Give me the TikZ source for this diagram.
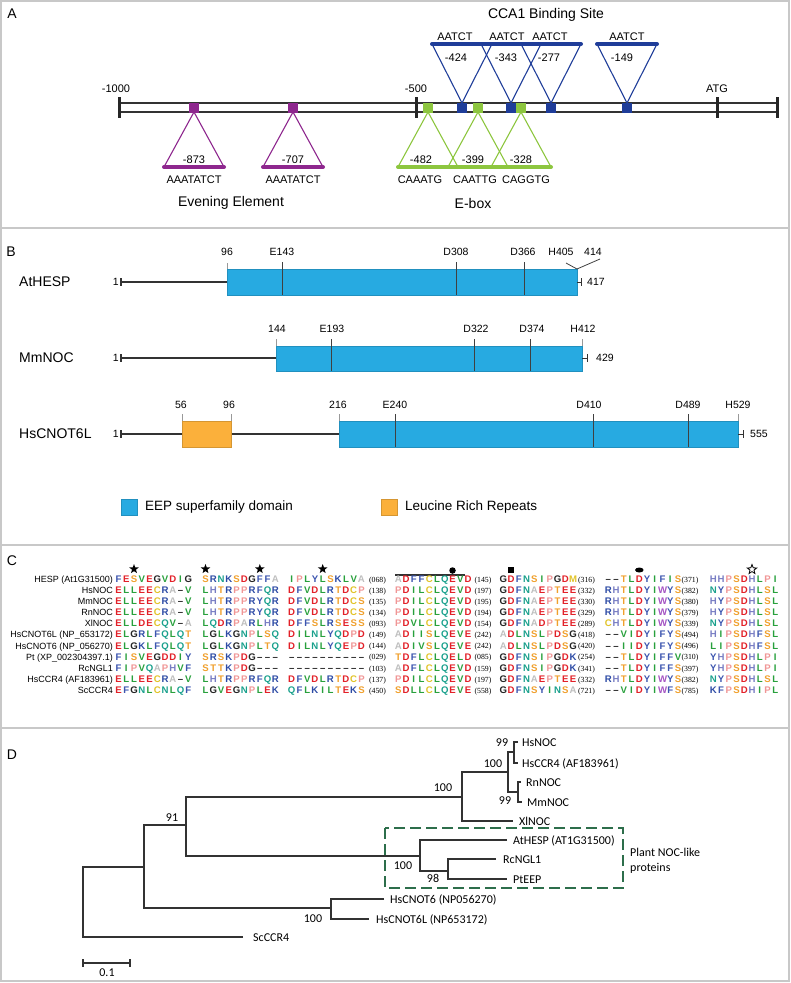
\documentclass[tikz,border=0pt]{standalone}
\usepackage{fontspec}
\setmainfont{Liberation Sans}
\newfontfamily\calib{Carlito}
\newfontfamily\serifnum{Liberation Serif}
\usetikzlibrary{shapes.geometric}

\definecolor{evpurple}{RGB}{142,39,142}
\definecolor{ebgreen}{RGB}{141,198,63}
\definecolor{ccablue}{RGB}{31,61,153}
\definecolor{eepblue}{RGB}{39,170,225}
\definecolor{lrrorange}{RGB}{251,176,59}
\definecolor{framegray}{RGB}{200,200,200}
\definecolor{boxgreen}{RGB}{45,110,75}
\definecolor{treegray}{RGB}{50,50,50}
\definecolor{aaRed}{RGB}{226,32,40}
\definecolor{aaGreen}{RGB}{40,160,60}
\definecolor{aaBlue}{RGB}{45,75,165}
\definecolor{aaBlueB}{RGB}{60,85,175}
\definecolor{aaSlate}{RGB}{120,125,195}
\definecolor{aaTeal}{RGB}{25,160,140}
\definecolor{aaOrange}{RGB}{240,160,45}
\definecolor{aaYellow}{RGB}{225,195,40}
\definecolor{aaPink}{RGB}{240,150,150}
\definecolor{aaGray}{RGB}{190,190,190}
\definecolor{aaPurple}{RGB}{165,85,195}
\definecolor{aaBlack}{RGB}{35,35,35}

\makeatletter
\def\aamap#1#2{\expandafter\def\csname aacol#1\endcsname{#2}}
\aamap D{aaRed}\aamap E{aaRed}
\aamap L{aaGreen}\aamap I{aaGreen}\aamap V{aaGreen}
\aamap R{aaBlue}\aamap K{aaBlue}
\aamap F{aaBlueB}\aamap Y{aaBlueB}
\aamap H{aaSlate}
\aamap N{aaTeal}\aamap Q{aaTeal}
\aamap S{aaOrange}\aamap T{aaOrange}
\aamap C{aaYellow}\aamap M{aaYellow}
\aamap P{aaPink}\aamap A{aaGray}\aamap W{aaPurple}
\aamap G{aaBlack}\aamap -{aaBlack}
\def\sq@dash{-}
\newcount\aacnt
\newcommand\seqrow[3]{%
  \def\sq@x{#1}%
  \@tfor\sq@c:=#3\do{%
    \global\advance\aacnt by 1
    \edef\sq@col{\csname aacol\sq@c\endcsname}%
    \ifx\sq@c\sq@dash\def\sq@t{\textendash}\else\let\sq@t\sq@c\fi
    \node[aa,text=\sq@col] (aa\the\aacnt) at (\sq@x,#2) {\sq@t};
    \pgfmathsetmacro\sq@x{\sq@x+7.75}%
  }%
}
\newcommand\alrow[9]{%
  \pgfmathsetmacro\al@b{#1+3.4}%
  \global\advance\aacnt by 1
  \node[alname] (nm\the\aacnt) at (113,\al@b) {#2};
  \seqrow{118.5}{\al@b}{#3}%
  \seqrow{205.5}{\al@b}{#4}%
  \seqrow{291.7}{\al@b}{#5}%
  \seqrow{398.3}{\al@b}{#6}%
  \seqrow{503.3}{\al@b}{#7}%
  \seqrow{608.3}{\al@b}{#8}%
  \seqrow{713.3}{\al@b}{#9}%
}
\newcommand\alnums[5]{%
  \pgfmathsetmacro\al@b{#1+3.2}%
  \global\advance\aacnt by 1
  \node[alnum] (na\the\aacnt) at (377.5,\al@b) {(#2)};
  \node[alnum] (nb\the\aacnt) at (483,\al@b) {(#3)};
  \node[alnum] (nc\the\aacnt) at (586.5,\al@b) {(#4)};
  \node[alnum] (nd\the\aacnt) at (690,\al@b) {(#5)};
}
\makeatother

\begin{document}
\begin{tikzpicture}[x=1pt,y=-1pt,
  frame/.style={draw=framegray,line width=1.5pt},
  plab/.style={font=\fontsize{14}{14}\selectfont,inner sep=0},
  ttl/.style={font=\fontsize{14}{14}\selectfont,inner sep=0},
  sml/.style={font=\fontsize{11}{11}\selectfont,inner sep=0},
  blab/.style={font=\fontsize{10.5}{10.5}\selectfont,inner sep=0},
  pname/.style={font=\fontsize{14}{14}\selectfont,inner sep=0,anchor=west},
  leg/.style={font=\fontsize{13.5}{13.5}\selectfont,inner sep=0,anchor=west},
  aa/.style={font=\fontsize{9.6}{9.6}\selectfont\bfseries,inner sep=0,anchor=base},
  alname/.style={font=\fontsize{9}{9}\selectfont,inner sep=0,anchor=base east},
  alnum/.style={font=\serifnum\fontsize{7.8}{7.8}\selectfont,inner sep=0,anchor=base},
  tree/.style={draw=treegray,line width=1.1pt},
  tlab/.style={font=\calib\fontsize{12}{12}\selectfont,inner sep=0,anchor=base west},
  boot/.style={font=\calib\fontsize{12}{12}\selectfont,inner sep=0},
  bar/.style={draw=black!80,line width=1.2pt},
  tickA/.style={draw=black!85,line width=3pt},
  prot/.style={draw=black!80,line width=1.3pt},
  dline/.style={draw=black!75,line width=0.8pt},
  eep/.style={fill=eepblue,draw=eepblue!85!black,line width=0.4pt},
  lrr/.style={fill=lrrorange,draw=lrrorange!85!black,line width=0.4pt},
  tri/.style={line width=1.1pt,line join=round},
  base/.style={line width=4pt,line cap=round},
]
\useasboundingbox (0,0) rectangle (791,983);

% ---------- frames ----------
\draw[frame] (1,1) rectangle (789,981);
\draw[frame] (1,228) -- (789,228);
\draw[frame] (1,545) -- (789,545);
\draw[frame] (1,728) -- (789,728);

% ================= Panel A =================
\node[plab] (labA) at (12,14) {A};
\draw[bar] (119,103) -- (777,103);
\draw[bar] (119,112) -- (777,112);
\draw[tickA] (119,97) -- (119,118);
\draw[tickA] (416,97) -- (416,118);
\draw[tickA] (717,97) -- (717,118);
\draw[tickA] (777,97) -- (777,118);
\node[sml] (pm1000) at (116,89) {-1000};
\node[sml] (pm500) at (416,89) {-500};
\node[sml] (patg) at (717,89) {ATG};

% CCA1 (blue)
\foreach \ax in {462,511,551,627}{
  \draw[ccablue,tri] (\ax,103) -- (\ax-30,44) -- (\ax+30,44) -- cycle;
}
\draw[ccablue,base] (432,44) -- (581,44);
\draw[ccablue,base] (597,44) -- (657,44);
\foreach \ax in {462,511,551,627}{
  \fill[ccablue] (\ax-5,102.5) rectangle (\ax+5,112.5);
}
\node[ttl] (ccat) at (546,15) {CCA1 Binding Site};
\node[sml] (c1) at (455,36.5) {AATCT};
\node[sml] (c2) at (507,36.5) {AATCT};
\node[sml] (c3) at (550,36.5) {AATCT};
\node[sml] (c4) at (627,36.5) {AATCT};
\node[sml] (c1n) at (456,57.5) {-424};
\node[sml] (c2n) at (506,57.5) {-343};
\node[sml] (c3n) at (549,57.5) {-277};
\node[sml] (c4n) at (622,57.5) {-149};

% Evening element (purple)
\foreach \ax in {194,293}{
  \draw[evpurple,tri] (\ax,112) -- (\ax-30,167) -- (\ax+30,167) -- cycle;
  \draw[evpurple,base] (\ax-30,167) -- (\ax+30,167);
  \fill[evpurple] (\ax-5,102.5) rectangle (\ax+5,112.5);
}
\node[sml] (e1n) at (194,160) {-873};
\node[sml] (e2n) at (293,160) {-707};
\node[sml] (e1s) at (194,180) {AAATATCT};
\node[sml] (e2s) at (293,180) {AAATATCT};
\node[ttl] (evt) at (231,203) {Evening Element};

% E-box (green)
\foreach \ax in {428,478,521}{
  \draw[ebgreen,tri] (\ax,112) -- (\ax-30,167) -- (\ax+30,167) -- cycle;
}
\draw[ebgreen,base] (398,167) -- (551,167);
\foreach \ax in {428,478,521}{
  \fill[ebgreen] (\ax-5,102.5) rectangle (\ax+5,112.5);
}
\node[sml] (g1n) at (421,160) {-482};
\node[sml] (g2n) at (473,160) {-399};
\node[sml] (g3n) at (521,160) {-328};
\node[sml] (g1s) at (420,180) {CAAATG};
\node[sml] (g2s) at (475,180) {CAATTG};
\node[sml] (g3s) at (526,180) {CAGGTG};
\node[ttl] (ebt) at (473,203) {E-box};

% ================= Panel B =================
\node[plab] (labB) at (11,252) {B};
% AtHESP
\node[pname] (nAt) at (19,282) {AtHESP};
\draw[prot] (121,282) -- (227,282);
\draw[prot] (121,278) -- (121,286);
\node[blab,anchor=east] (oneAt) at (119,282) {1};
\draw[eep] (227,269) rectangle (577,295);
\draw[dline,black!40] (227,263) -- (227,269);
\foreach \lx in {282,456,524}{\draw[dline] (\lx,262) -- (\lx,295);}
\draw[dline] (566,263) -- (577,269) -- (600,259);
\draw[prot,line width=1pt] (577,282) -- (581,282);
\draw[prot,line width=1pt] (581,278) -- (581,286);
\node[blab,anchor=west] (e417) at (587,282) {417};
\node[blab] (b96) at (227,252) {96};
\node[blab] (bE143) at (282,252) {E143};
\node[blab] (bD308) at (456,252) {D308};
\node[blab] (bD366) at (523,252) {D366};
\node[blab] (bH405) at (561,252) {H405};
\node[blab] (b414) at (593,252) {414};

% MmNOC
\node[pname] (nMm) at (19,358) {MmNOC};
\draw[prot] (121,358) -- (276,358);
\draw[prot] (121,354) -- (121,362);
\node[blab,anchor=east] (oneMm) at (119,358) {1};
\draw[eep] (276,346) rectangle (582,371);
\draw[dline,black!40] (276,339) -- (276,346);
\draw[dline,black!40] (582,339) -- (582,346);
\foreach \lx in {331,474,530}{\draw[dline] (\lx,339) -- (\lx,371);}
\draw[prot,line width=1pt] (582,358) -- (587,358);
\draw[prot,line width=1pt] (587,354) -- (587,362);
\node[blab,anchor=west] (e429) at (596,358) {429};
\node[blab] (m144) at (277,329) {144};
\node[blab] (mE193) at (332,329) {E193};
\node[blab] (mD322) at (476,329) {D322};
\node[blab] (mD374) at (532,329) {D374};
\node[blab] (mH412) at (583,329) {H412};

% HsCNOT6L
\node[pname] (nHs) at (19,434) {HsCNOT6L};
\draw[prot] (121,434) -- (339,434);
\draw[prot] (121,430) -- (121,438);
\node[blab,anchor=east] (oneHs) at (119,434) {1};
\draw[lrr] (182,421) rectangle (231,447);
\draw[eep] (339,421) rectangle (738,447);
\foreach \lx in {182,231,339,738}{\draw[dline,black!40] (\lx,414) -- (\lx,421);}
\foreach \lx in {395,593,688}{\draw[dline] (\lx,414) -- (\lx,447);}
\draw[prot,line width=1pt] (738,434) -- (743,434);
\draw[prot,line width=1pt] (743,430) -- (743,438);
\node[blab,anchor=west] (e555) at (750,434) {555};
\node[blab] (h56) at (181,405) {56};
\node[blab] (h96) at (229,405) {96};
\node[blab] (h216) at (338,405) {216};
\node[blab] (hE240) at (395,405) {E240};
\node[blab] (hD410) at (589,405) {D410};
\node[blab] (hD489) at (688,405) {D489};
\node[blab] (hH529) at (738,405) {H529};

% legend
\draw[eep] (121,499) rectangle (137,515);
\node[leg] (legE) at (145,507) {EEP superfamily domain};
\draw[lrr] (381,499) rectangle (397,515);
\node[leg] (legL) at (405,507) {Leucine Rich Repeats};

% ================= Panel C =================
\node[plab] (labC) at (12,561) {C};
\node[star,star points=5,star point ratio=2.4,minimum size=10pt,inner sep=0,fill=black] (s1) at (134,569) {};
\node[star,star points=5,star point ratio=2.4,minimum size=10pt,inner sep=0,fill=black] (s2) at (205.5,569) {};
\node[star,star points=5,star point ratio=2.4,minimum size=10pt,inner sep=0,fill=black] (s3) at (259.8,569) {};
\node[star,star points=5,star point ratio=2.4,minimum size=10pt,inner sep=0,fill=black] (s4) at (322.7,569) {};
\node[star,star points=5,star point ratio=2.4,minimum size=10pt,inner sep=0,draw=black,line width=0.8pt] (s5) at (752,569.5) {};
\node[circle,fill=black,minimum size=6.5pt,inner sep=0] (dotE) at (452.5,570.5) {};
\node[rectangle,fill=black,minimum size=6pt,inner sep=0] (sqD) at (511,570) {};
\node[ellipse,fill=black,minimum width=8.5pt,minimum height=5pt,inner sep=0] (elD) at (639.3,570) {};
\draw[black!80,line width=1.2pt] (395,575) -- (465,575);

\alrow{579}{HESP (At1G31500)}{FESVEGVDIG}{SRNKSDGFFA}{IPLYLSKLVA}{ADFFCLQEVD}{GDFNSIPGDM}{--TLDYIFIS}{HHPSDHLPI}
\alnums{579}{068}{145}{316}{371}
\alrow{590.1}{HsNOC}{ELLEECRA-V}{LHTRPPRFQR}{DFVDLRTDCP}{PDILCLQEVD}{GDFNAEPTEE}{RHTLDYIWYS}{NYPSDHLSL}
\alnums{590.1}{138}{197}{332}{382}
\alrow{601.2}{MmNOC}{ELLEECRA-V}{LHTRPPRYQR}{DFVDLRTDCS}{PDILCLQEVD}{GDFNAEPTEE}{RHTLDYIWYS}{HYPSDHLSL}
\alnums{601.2}{135}{195}{330}{380}
\alrow{612.3}{RnNOC}{ELLEECRA-V}{LHTRPPRYQR}{DFVDLRTDCS}{PDILCLQEVD}{GDFNAEPTEE}{RHTLDYIWYS}{HYPSDHLSL}
\alnums{612.3}{134}{194}{329}{379}
\alrow{623.4}{XlNOC}{ELLDECQV-A}{LQDRPARLHR}{DFFSLRSESS}{PDVLCLQEVD}{GDFNADPTEE}{CHTLDYIWYS}{NYPSDHLSL}
\alnums{623.4}{093}{154}{289}{339}
\alrow{634.5}{HsCNOT6L (NP\_653172)}{ELGRLFQLQT}{LGLKGNPLSQ}{DILNLYQDPD}{ADIISLQEVE}{ADLNSLPDSG}{--VIDYIFYS}{HIPSDHFSL}
\alnums{634.5}{149}{242}{418}{494}
\alrow{645.6}{HsCNOT6 (NP\_056270)}{ELGKLFQLQT}{LGLKGNPLTQ}{DILNLYQEPD}{ADIVSLQEVE}{ADLNSLPDSG}{--IIDYIFYS}{LIPSDHFSL}
\alnums{645.6}{144}{242}{420}{496}
\alrow{656.7}{Pt (XP\_002304397.1)}{FISVEGDDIY}{SRSKPDG---}{----------}{TDFLCLQELD}{GDFNSIPGDK}{--TLDYIFFV}{YHPSDHLPI}
\alnums{656.7}{029}{085}{254}{310}
\alrow{667.8}{RcNGL1}{FIPVQAPHVF}{STTKPDG---}{----------}{ADFLCLQEVD}{GDFNSIPGDK}{--TLDYIFFS}{YHPSDHLPI}
\alnums{667.8}{103}{159}{341}{397}
\alrow{678.9}{HsCCR4 (AF183961)}{ELLEECRA-V}{LHTRPPRFQR}{DFVDLRTDCP}{PDILCLQEVD}{GDFNAEPTEE}{RHTLDYIWYS}{NYPSDHLSL}
\alnums{678.9}{137}{197}{332}{382}
\alrow{690}{ScCCR4}{EFGNLCNLQF}{LGVEGNPLEK}{QFLKILTEKS}{SDLLCLQEVE}{GDFNSYINSA}{--VIDYIWFS}{KFPSDHIPL}
\alnums{690}{450}{558}{721}{785}

% ================= Panel D =================
\node[plab] (labD) at (12,755) {D};
\draw[tree] (243,937) -- (83,937) -- (83,867) -- (144,867);
\draw[tree] (186,825) -- (144,825) -- (144,908) -- (331,908);
\draw[tree] (462,797) -- (186,797) -- (186,856) -- (420,856);
\draw[tree] (508,772) -- (462,772) -- (462,821) -- (513,821);
\draw[tree] (514,752) -- (508,752) -- (508,792) -- (518,792);
\draw[tree] (518,742) -- (514,742) -- (514,763) -- (518,763);
\draw[tree] (521,782) -- (518,782) -- (518,802) -- (522,802);
\draw[tree] (507,840) -- (420,840) -- (420,871) -- (448,871);
\draw[tree] (496,859) -- (448,859) -- (448,879) -- (507,879);
\draw[tree] (384,899) -- (331,899) -- (331,919) -- (369,919);

\node[tlab] (tSc) at (253,941) {ScCCR4};
\node[tlab] (tHsNOC) at (522,746) {HsNOC};
\node[tlab] (tHsCCR4) at (522,767) {HsCCR4 (AF183961)};
\node[tlab] (tRn) at (526,786) {RnNOC};
\node[tlab] (tMm) at (527,806) {MmNOC};
\node[tlab] (tXl) at (519,825) {XlNOC};
\node[tlab] (tAt) at (513,844) {AtHESP (AT1G31500)};
\node[tlab] (tRc) at (503,863) {RcNGL1};
\node[tlab] (tPt) at (513,883) {PtEEP};
\node[tlab] (tC6) at (390,903) {HsCNOT6 (NP056270)};
\node[tlab] (tC6L) at (376,923) {HsCNOT6L (NP653172)};

\node[boot] (b91) at (172,818) {91};
\node[boot] (b100a) at (443,788) {100};
\node[boot] (b100b) at (493,764) {100};
\node[boot] (b99a) at (502,743) {99};
\node[boot] (b99b) at (505,801) {99};
\node[boot] (b100c) at (403,866) {100};
\node[boot] (b98) at (433,878) {98};
\node[boot] (b100d) at (313,919) {100};

\draw[boxgreen,line width=1.5pt,dash pattern=on 11pt off 5pt] (385,828) rectangle (623,888);
\node[tlab] (plant1) at (630,856) {Plant NOC-like};
\node[tlab] (plant2) at (630,871) {proteins};

\draw[tree] (83,963) -- (130,963);
\draw[tree] (83,959) -- (83,967);
\draw[tree] (130,959) -- (130,967);
\node[boot] (scale) at (107,973) {0.1};
\end{tikzpicture}
\end{document}
